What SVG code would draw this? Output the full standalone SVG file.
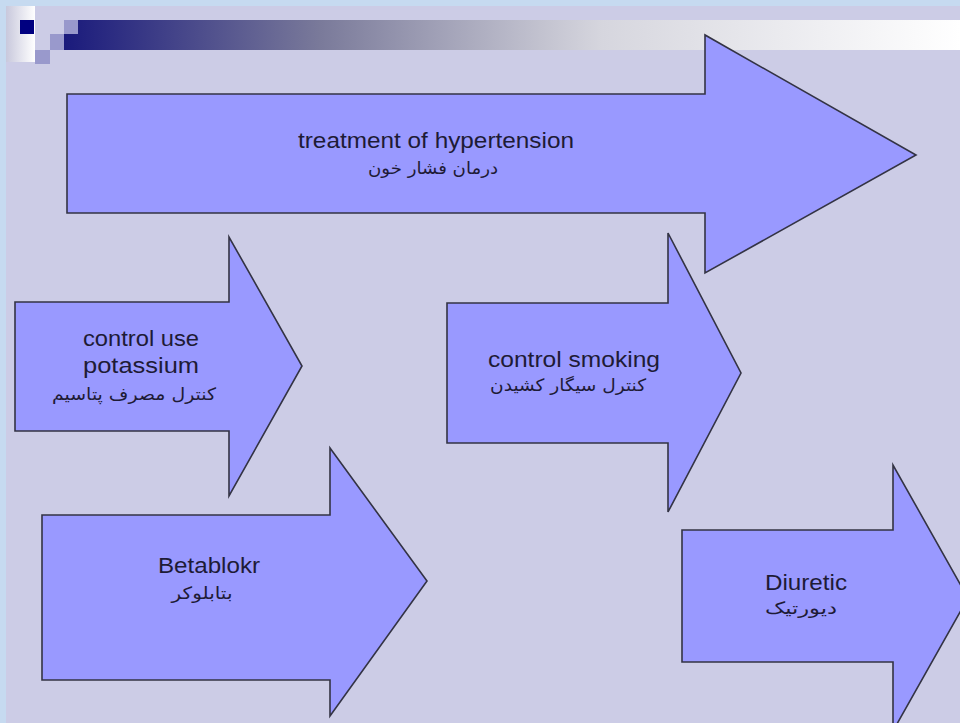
<svg xmlns="http://www.w3.org/2000/svg" width="960" height="723" viewBox="0 0 960 723">
<defs>
<linearGradient id="bar" gradientUnits="userSpaceOnUse" x1="64" y1="0" x2="960" y2="0">
<stop offset="0" stop-color="#1a1a7c"/>
<stop offset="0.286" stop-color="#7a7a9a"/>
<stop offset="0.6" stop-color="#d6d6de"/>
<stop offset="1" stop-color="#ffffff"/>
</linearGradient>
<linearGradient id="stripe" gradientUnits="userSpaceOnUse" x1="6" y1="0" x2="35" y2="0">
<stop offset="0" stop-color="#c8c8dc"/>
<stop offset="1" stop-color="#ffffff"/>
</linearGradient>
<style>
.arrow{fill:#9999ff;stroke:#333344;stroke-width:1.6;stroke-linejoin:miter}
.en{font-family:"Liberation Sans",Arial,sans-serif;font-size:22px;fill:#1e1b36;text-anchor:middle}
.fa{font-family:"DejaVu Sans","Noto Sans",sans-serif;font-size:17px;fill:#1e1b36;text-anchor:middle}
</style>
</defs>
<rect x="0" y="0" width="960" height="723" fill="#c6daf0"/>
<rect x="6" y="6" width="954" height="717" fill="#ccccE6"/>
<g id="decoration">
<rect x="6" y="6" width="29" height="56" fill="url(#stripe)"/>
<rect x="20" y="20" width="14" height="14" fill="#000080"/>
<rect x="64" y="20" width="14" height="14" fill="#9999cc"/>
<rect x="50" y="34" width="14" height="16" fill="#9999cc"/>
<rect x="35" y="50" width="15" height="14" fill="#9999cc"/>
<path d="M78,20 H960 V50 H64 V34 H78 Z" fill="url(#bar)"/>
</g>
<g id="treatment">
<path class="arrow" d="M67,94 H705 V35 L916,155 L705,273 V213 H67 Z"/>
<text class="en" x="436" y="148" textLength="276" lengthAdjust="spacingAndGlyphs">treatment of hypertension</text>
<text class="fa" x="433" y="174" direction="rtl" textLength="130" lengthAdjust="spacingAndGlyphs">درمان فشار خون</text>
</g>
<g id="potassium">
<path class="arrow" d="M15,302 H229 V237 L302,366 L229,496 V431 H15 Z"/>
<text class="en" x="141" y="346" textLength="116" lengthAdjust="spacingAndGlyphs">control use</text>
<text class="en" x="141" y="373" textLength="116" lengthAdjust="spacingAndGlyphs">potassium</text>
<text class="fa" x="134" y="400" direction="rtl" textLength="164" lengthAdjust="spacingAndGlyphs">کنترل مصرف پتاسیم</text>
</g>
<g id="smoking">
<path class="arrow" d="M447,303 H668 V233 L741,373 L668,512 V443 H447 Z"/>
<text class="en" x="574" y="367" textLength="172" lengthAdjust="spacingAndGlyphs">control smoking</text>
<text class="fa" x="568" y="391" direction="rtl" textLength="156" lengthAdjust="spacingAndGlyphs">کنترل سیگار کشیدن</text>
</g>
<g id="betablokr">
<path class="arrow" d="M42,515 H330 V448 L427,581 L330,716 V680 H42 Z"/>
<text class="en" x="209" y="573" textLength="102" lengthAdjust="spacingAndGlyphs">Betablokr</text>
<text class="fa" x="202" y="599" direction="rtl" textLength="61" lengthAdjust="spacingAndGlyphs">بتابلوکر</text>
</g>
<g id="diuretic">
<path class="arrow" d="M682,530 H893 V465 L968,598 L893,731 V662 H682 Z"/>
<text class="en" x="806" y="590" textLength="82" lengthAdjust="spacingAndGlyphs">Diuretic</text>
<text class="fa" x="801" y="614" direction="rtl" textLength="72" lengthAdjust="spacingAndGlyphs">دیورتیک</text>
</g>
<g id="connectors"/>
</svg>
